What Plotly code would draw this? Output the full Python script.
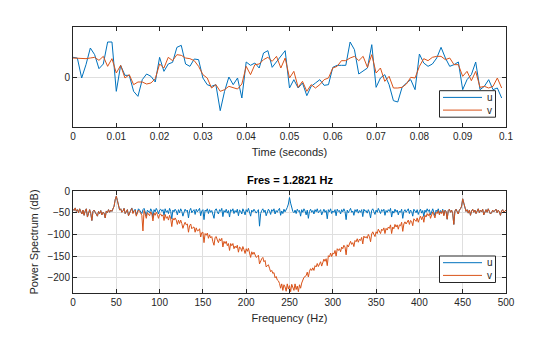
import plotly.graph_objects as go

# ---------------- data ----------------
fs = 1000.0
t_ms = list(range(100))  # sample index (ms)
time_s = [k / fs for k in t_ms]

u_time = [59, 57, -3, 37, 87, 67, 25, 39, 105, 105, -43, 35, 5, 5, -43, -58, -8, 9, 2, -15,
          59, 17, 39, 44, 89, 95, 39, 32, 54, 52, -3, -23, -28, -23, -101, -43, 0, -23, -3, -63,
          45, 35, 42, 27, 72, 79, 29, 45, 62, 79, -33, -8, -33, -18, -56, -28, -18, -8, -25, -23,
          29, 35, 35, 35, 105, 82, 9, 19, 27, 97, -31, -3, 7, -23, -71, -75, -31, -18, -8, -38,
          69, 42, 32, 39, 57, 89, 57, 32, 37, 45, -38, -8, 7, 45, -38, -28, -8, -38, -33, -63]
v_time = [57, 56, 55, 55, 57, 59, 50, 62, 32, 55, 12, 35, -3, 7, -23, -15, -15, -21, -18, -5,
          39, 27, 59, 49, 67, 65, 57, 55, 49, 32, 7, -3, -33, -23, -43, -38, -28, -33, -36, -21,
          32, 7, 37, 39, 52, 59, 47, 62, 27, 57, -3, 17, -31, -13, -43, -23, -33, -23, -8, -3,
          27, 32, 49, 49, 57, 62, 49, 62, 29, 67, 12, 27, -13, 2, -33, -33, -31, -21, -1, -3,
          32, 55, 49, 59, 62, 62, 52, 57, 37, 37, 2, 17, -11, 17, -31, -28, -33, -28, -3, -33]

Fres = 1000.0 / 780.0
u_db = [-42, -45, -39, -47, -43, -50, -41, -46, -53, -44, -56, -46, -41, -60, -48, -43, -52, -68, -47, -44,
        -49, -53, -58, -47, -52, -45, -55, -49, -51, -62, -46, -50, -43, -49, -44, -47, -42, -35, -20, -12,
        -22, -38, -44, -41, -49, -46, -40, -52, -47, -43, -57, -48, -44, -39, -50, -45, -42, -55, -47, -41,
        -44, -49, -52, -43, -40, -48, -58, -44, -47, -50, -41, -46, -61, -43, -48, -40, -45, -53, -44, -42,
        -47, -43, -56, -41, -49, -45, -52, -40, -47, -64, -44, -48, -42, -46, -55, -43, -50, -41, -47, -58,
        -49, -42, -47, -44, -62, -45, -40, -50, -46, -43, -54, -42, -48, -45, -40, -57, -46, -43, -66, -44,
        -47, -41, -52, -43, -49, -45, -56, -63, -44, -41, -48, -53, -43, -47, -40, -59, -45, -49, -42, -51,
        -45, -60, -43, -47, -41, -52, -45, -49, -42, -57, -44, -46, -53, -41, -47, -55, -43, -48, -40, -50,
        -58, -44, -48, -42, -46, -51, -47, -43, -81, -52, -45, -41, -49, -44, -57, -50, -42, -46, -54, -43,
        -47, -41, -53, -45, -49, -43, -40, -56, -46, -52, -42, -48, -44, -38, -30, -15, -28, -41, -47, -50,
        -44, -52, -42, -47, -45, -58, -43, -49, -41, -46, -55, -44, -63, -47, -42, -49, -45, -53, -43, -48,
        -41, -50, -46, -43, -55, -47, -42, -49, -45, -64, -43, -48, -41, -52, -46, -49, -43, -57, -42, -47,
        -45, -53, -43, -48, -41, -47, -66, -44, -50, -45, -40, -49, -46, -56, -43, -48, -42, -51, -45, -49,
        -43, -59, -42, -47, -45, -51, -43, -49, -62, -45, -41, -48, -54, -44, -49, -40, -46, -52, -43, -47,
        -42, -56, -45, -49, -43, -47, -40, -60, -46, -51, -42, -48, -44, -55, -46, -49, -42, -63, -47, -43,
        -49, -45, -41, -52, -44, -47, -58, -42, -46, -50, -43, -54, -47, -42, -51, -45, -59, -44, -49, -41,
        -47, -43, -55, -45, -41, -49, -57, -44, -48, -41, -52, -45, -50, -42, -56, -44, -47, -65, -45, -42,
        -49, -44, -52, -77, -46, -42, -48, -53, -44, -41, -35, -18, -28, -40, -47, -43, -51, -44, -56, -46,
        -42, -49, -44, -52, -46, -41, -50, -44, -48, -42, -55, -46, -43, -49, -41, -47, -53, -50, -44, -48,
        -45, -42, -50, -44, -48, -56, -46, -43, -49, -45, -44]
v_db = [-42, -45, -39, -47, -43, -50, -41, -46, -53, -44, -56, -46, -41, -60, -48, -43, -52, -68, -47, -44,
        -49, -53, -58, -47, -52, -45, -55, -49, -51, -62, -46, -50, -43, -49, -44, -47, -42, -35, -20, -12,
        -22, -38, -44, -41, -49, -46, -40, -52, -47, -43, -57, -48, -45, -40, -52, -47, -44, -58, -50, -44,
        -47, -53, -56, -92, -45, -53, -63, -50, -53, -57, -48, -53, -69, -51, -56, -49, -54, -63, -54, -53,
        -58, -55, -68, -54, -63, -59, -67, -56, -64, -82, -63, -67, -62, -67, -77, -67, -75, -67, -75, -86,
        -78, -72, -78, -76, -95, -80, -76, -87, -84, -83, -95, -85, -92, -91, -87, -106, -96, -95, -119, -98,
        -102, -97, -109, -101, -108, -105, -117, -125, -107, -105, -113, -119, -110, -115, -109, -129, -116, -121, -116, -126,
        -121, -137, -121, -126, -121, -133, -127, -131, -125, -141, -129, -131, -139, -128, -135, -144, -133, -139, -132, -143,
        -153, -140, -146, -141, -146, -153, -151, -148, -168, -161, -156, -153, -163, -160, -175, -172, -170, -178, -186, -183,
        -190, -188, -200, -197, -205, -207, -213, -224, -214, -229, -216, -221, -231, -214, -226, -218, -232, -215, -224, -229,
        -214, -227, -219, -232, -216, -224, -212, -205, -199, -197, -195, -187, -198, -185, -179, -183, -177, -183, -172, -175,
        -167, -174, -168, -163, -173, -163, -157, -162, -156, -172, -149, -152, -143, -151, -143, -145, -137, -150, -133, -137,
        -133, -140, -129, -133, -125, -129, -147, -124, -129, -122, -116, -123, -119, -128, -114, -117, -110, -118, -111, -114,
        -107, -122, -104, -108, -105, -109, -100, -105, -117, -99, -94, -100, -105, -94, -98, -88, -93, -98, -88, -91,
        -85, -98, -86, -90, -83, -86, -78, -98, -83, -87, -77, -83, -78, -88, -78, -80, -72, -93, -76, -71,
        -76, -72, -67, -77, -68, -70, -80, -64, -67, -70, -62, -72, -64, -58, -66, -59, -72, -56, -60, -52,
        -57, -52, -63, -53, -48, -55, -62, -49, -52, -45, -55, -48, -52, -44, -57, -45, -47, -65, -45, -42,
        -49, -44, -52, -77, -46, -42, -48, -53, -44, -41, -35, -18, -28, -40, -47, -43, -51, -44, -56, -46,
        -42, -49, -44, -52, -46, -41, -50, -44, -48, -42, -55, -46, -43, -49, -41, -47, -53, -50, -44, -48,
        -45, -42, -50, -44, -48, -56, -46, -43, -49, -45, -44]
freq = [k * Fres for k in range(len(u_db))]

time_ticks = [0, 0.01, 0.02, 0.03, 0.04, 0.05, 0.06, 0.07, 0.08, 0.09, 0.1]
time_ticktext = ["0", "0.01", "0.02", "0.03", "0.04", "0.05", "0.06", "0.07", "0.08", "0.09", "0.1"]
freq_ticks = [0, 50, 100, 150, 200, 250, 300, 350, 400, 450, 500]
db_ticks = [0, -50, -100, -150, -200]
legend_labels = ["u", "v"]

# ---------------- styling ----------------
BLUE = "#0072BD"
ORANGE = "#D95319"
COLORS = [BLUE, ORANGE]
AX = "#262626"
GRID = "#dfdfdf"
FONT = "Liberation Sans, Arial, Helvetica, sans-serif"
W, H = 560, 337

fig = go.Figure()
fig.add_trace(go.Scatter(x=time_s, y=u_time, mode="lines", name="u",
                         line=dict(color=BLUE, width=1), xaxis="x", yaxis="y"))
fig.add_trace(go.Scatter(x=time_s, y=v_time, mode="lines", name="v",
                         line=dict(color=ORANGE, width=1), xaxis="x", yaxis="y"))
fig.add_trace(go.Scatter(x=freq, y=u_db, mode="lines", name="u",
                         line=dict(color=BLUE, width=1), xaxis="x2", yaxis="y2"))
fig.add_trace(go.Scatter(x=freq, y=v_db, mode="lines", name="v",
                         line=dict(color=ORANGE, width=1), xaxis="x2", yaxis="y2"))

xdom = [73 / W, 506 / W]
common = dict(showline=True, linecolor=AX, linewidth=1, mirror="ticks", ticks="inside",
              ticklen=4, tickwidth=1, tickcolor=AX, zeroline=False, automargin=False,
              tickfont=dict(family=FONT, size=10, color=AX))

# MATLAB-style legend boxes (paper pixel layout), one per subplot
shapes, annotations = [], []
def add_legend(box_top_px):
    left, right = 439.5, 495.5
    top, bottom = box_top_px, box_top_px + 26.5
    shapes.append(dict(type="rect", xref="paper", yref="paper",
                       x0=left / W, x1=right / W, y0=1 - bottom / H, y1=1 - top / H,
                       line=dict(color=AX, width=1), fillcolor="white", layer="above"))
    for i, (lab, col) in enumerate(zip(legend_labels, COLORS)):
        yy = top + 6.7 + i * 12.7
        shapes.append(dict(type="line", xref="paper", yref="paper",
                           x0=443 / W, x1=482 / W, y0=1 - yy / H, y1=1 - yy / H,
                           line=dict(color=col, width=1), layer="above"))
        annotations.append(dict(text=lab, x=485 / W, y=1 - yy / H, xref="paper", yref="paper",
                                xanchor="left", yanchor="middle", showarrow=False,
                                font=dict(family=FONT, size=10, color=AX)))

add_legend(90.7)
add_legend(256.0)

annotations.append(dict(text="<b>Fres = 1.2821 Hz</b>", x=(xdom[0] + xdom[1]) / 2, y=1 - 179.5 / H,
                        xref="paper", yref="paper", showarrow=False,
                        font=dict(family=FONT, size=11, color="#000000")))

fig.update_layout(
    width=W, height=H, autosize=False, showlegend=False,
    margin=dict(l=0, r=0, t=0, b=0, pad=0, autoexpand=False),
    paper_bgcolor="white", plot_bgcolor="white",
    font=dict(family=FONT, size=10, color=AX),
    xaxis=dict(domain=xdom, anchor="y", range=[0, 0.1], tickvals=time_ticks, ticktext=time_ticktext,
               showgrid=False,
               title=dict(text="Time (seconds)", font=dict(family=FONT, size=11, color=AX), standoff=7),
               **common),
    yaxis=dict(domain=[1 - 127 / H, 1 - 27 / H], anchor="x", range=[-150, 150], tickvals=[0],
               showgrid=True, gridcolor=GRID, gridwidth=1, **common),
    xaxis2=dict(domain=xdom, anchor="y2", range=[0, 500], tickvals=freq_ticks,
                showgrid=True, gridcolor=GRID, gridwidth=1,
                title=dict(text="Frequency (Hz)", font=dict(family=FONT, size=11, color=AX), standoff=7),
                **common),
    yaxis2=dict(domain=[1 - 293 / H, 1 - 191 / H], anchor="x2", range=[-235, 0], tickvals=db_ticks,
                showgrid=True, gridcolor=GRID, gridwidth=1,
                title=dict(text="Power Spectrum (dB)", font=dict(family=FONT, size=11, color=AX), standoff=6),
                **common),
    shapes=shapes,
    annotations=annotations,
)

fig.write_html("out.html")
